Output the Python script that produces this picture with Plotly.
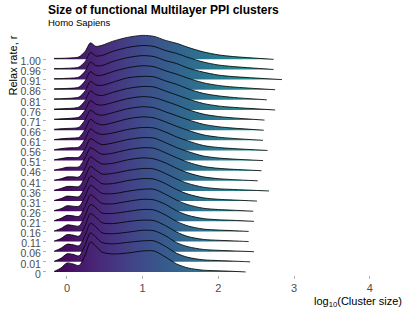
import plotly.graph_objects as go

# ---- data ----
row_labels = ["0", "0.01", "0.06", "0.11", "0.16", "0.21", "0.26", "0.31", "0.36", "0.41", "0.46",
              "0.51", "0.56", "0.61", "0.66", "0.71", "0.76", "0.81", "0.86", "0.91", "0.96", "1.00"]

# log10(cluster size) sample positions for the density estimates
x_grid = [-0.17, -0.08, 0.0, 0.08, 0.16, 0.24, 0.31, 0.38, 0.46, 0.6, 0.8, 1.0, 1.15, 1.3, 1.45, 1.6, 1.8, 2.0, 2.2]

# max log10(cluster size) per relax rate (where each ridge ends)
x_max = [2.36, 2.42, 2.47, 2.40, 2.40, 2.47, 2.46, 2.51, 2.67, 2.52, 2.57,
         2.59, 2.65, 2.59, 2.60, 2.61, 2.75, 2.64, 2.75, 2.84, 2.73, 2.73]

# scaled density heights per relax rate (bottom row first)
d_000 = [0.5, 4, 9, 8, 6.5, 17, 30, 26, 20, 18, 19, 21, 21, 15, 8, 4, 1.8, 1.2, 0.6]
d_001 = [0.5, 3.5, 8, 7.5, 6, 17, 29, 25, 19.5, 18, 19.5, 21, 21, 15.5, 8.5, 4.5, 2, 1.3, 0.7]
d_006 = [0.5, 3.5, 7.5, 7, 6, 16.5, 28.5, 25, 19, 18, 19.5, 21.5, 21, 16, 9, 5, 2.3, 1.4, 0.8]
d_011 = [0.5, 3, 7, 6.5, 5.5, 16, 28, 24.5, 19, 18, 20, 21.5, 21, 16, 9.5, 5, 2.2, 1.3, 0.7]
d_016 = [0.5, 3, 6.5, 6, 5.5, 16, 27, 24, 18.5, 18, 20, 22, 21.5, 16.5, 10, 5.5, 2.4, 1.4, 0.8]
d_021 = [0.6, 3, 6, 5.5, 5, 15, 26.5, 23, 18, 17.5, 20, 22, 21.5, 17, 10.5, 6, 2.8, 1.6, 1.0]
d_026 = [0.6, 2.5, 5.5, 5, 5, 15, 26, 22.5, 18, 17.5, 20, 22, 22, 17, 11, 6.5, 3, 1.7, 1.0]
d_031 = [0.6, 2.5, 5, 4.5, 4.5, 14, 25, 22, 17.5, 17.5, 20.5, 22.5, 22, 17.5, 11.5, 7, 3.3, 1.8, 1.1]
d_036 = [0.7, 2.5, 4.5, 4.5, 4.5, 14, 24.5, 21, 17, 17.5, 20.5, 22.5, 22, 17.5, 12, 7.5, 3.8, 2.2, 1.5]
d_041 = [0.7, 2, 4, 4, 4, 13, 24, 20.5, 17, 17.5, 21, 23, 22, 18, 12.5, 8, 4, 2.2, 1.2]
d_046 = [0.7, 2, 3.5, 3.5, 4, 13, 23, 20, 16.5, 17.5, 21, 23, 22.5, 18, 13, 8.5, 4.3, 2.4, 1.4]
d_051 = [0.8, 2, 3, 3, 3.5, 12, 22, 19, 16, 17.5, 21, 23, 22.5, 18, 13, 9, 4.6, 2.6, 1.5]
d_056 = [0.8, 1.8, 2.5, 2.7, 3.5, 11.5, 21.5, 18, 16, 17.5, 21, 23, 22.5, 18.5, 13.5, 9.5, 5, 3, 1.9]
d_061 = [0.8, 1.5, 2, 2.3, 3, 11, 21, 17.5, 15.5, 17.5, 21.5, 23.5, 22.5, 18.5, 14, 10, 5.5, 3.2, 1.9]
d_066 = [0.9, 1.5, 1.8, 2, 3, 10.5, 20, 16.5, 15, 17.5, 21.5, 23.5, 22.5, 18.5, 14.5, 10.5, 6, 3.5, 2.1]
d_071 = [0.9, 1.3, 1.6, 2, 3, 10, 19.5, 16, 15, 17.5, 21.5, 23.5, 22.5, 19, 15, 10.5, 6, 3.6, 2.2]
d_076 = [0.9, 1.2, 1.5, 1.8, 3, 9.5, 19, 15.5, 14.5, 17.5, 21.5, 23.5, 23, 19, 15, 11, 6.5, 4, 2.6]
d_081 = [1, 1.2, 1.4, 1.8, 2.8, 9, 18.5, 15, 14.5, 17.5, 22, 23.5, 23, 19, 15.5, 11, 6.5, 4, 2.4]
d_086 = [1, 1.1, 1.3, 1.6, 2.7, 9, 18, 14.5, 14.5, 18, 22, 24, 23, 19, 15.5, 11.5, 7, 4.3, 2.7]
d_091 = [1, 1, 1.3, 1.6, 2.6, 8.5, 17.5, 14, 14, 18, 22, 24, 23, 19, 16, 11.5, 7.5, 4.5, 3]
d_096 = [1, 1, 1.2, 1.5, 2.5, 8, 17, 13.5, 14, 18, 22, 24, 23, 19, 16, 12, 7.5, 4.5, 2.9]
d_100 = [1, 1, 1.2, 1.5, 2.5, 8, 16.5, 13, 14, 18, 22, 24, 23, 19, 16, 12, 7.5, 4.5, 2.8]

densities = [d_000, d_001, d_006, d_011, d_016, d_021, d_026, d_031, d_036, d_041, d_046,
             d_051, d_056, d_061, d_066, d_071, d_076, d_081, d_086, d_091, d_096, d_100]

x_ticks = [0, 1, 2, 3, 4]

# ---- style ----
SCALE = 1 / 10.14  # density units -> row spacing
viridis_part = [
    [0.0, "#440154"], [0.086, "#471365"], [0.172, "#482475"], [0.259, "#463480"],
    [0.345, "#414487"], [0.431, "#3b528b"], [0.517, "#355f8d"], [0.603, "#2f6c8e"],
    [0.690, "#2a788e"], [0.776, "#25848e"], [0.862, "#21918c"], [0.948, "#1e9c89"],
    [1.0, "#20a386"],
]
g_start = min(x_grid)
g_stop = max(x_max)

fig = go.Figure()
n = len(row_labels)
for i in reversed(range(n)):
    xs = list(x_grid) + [x_max[i]]
    ys = [i + v * SCALE for v in densities[i]] + [i]
    fig.add_trace(go.Scatter(x=[xs[0], xs[-1]], y=[i, i], mode="lines",
                             line=dict(width=0, color="rgba(0,0,0,0)"),
                             hoverinfo="skip", showlegend=False))
    fig.add_trace(go.Scatter(
        x=xs, y=ys, mode="lines", fill="tonexty",
        line=dict(color="rgba(0,0,0,0.9)", width=0.9, shape="spline", smoothing=0.8),
        fillgradient=dict(type="horizontal", colorscale=viridis_part, start=g_start, stop=g_stop),
        hoverinfo="skip", showlegend=False))

FONT = "Liberation Sans, Arial, sans-serif"
fig.update_layout(
    width=407, height=311,
    margin=dict(l=47, r=10, t=31, b=36, autoexpand=False),
    paper_bgcolor="white", plot_bgcolor="white",
    showlegend=False,
    font=dict(family=FONT, size=11, color="#4d4d4d"),
    xaxis=dict(range=[-0.264, 4.36], tickvals=x_ticks, ticktext=[str(t) for t in x_ticks],
               ticks="outside", ticklen=3, tickcolor="#b0b0b0", showgrid=False, automargin=False,
               zeroline=False, showline=False, tickfont=dict(size=11, color="#4d4d4d")),
    yaxis=dict(range=[-0.3, 23.8], tickvals=list(range(n)), ticktext=row_labels,
               ticks="outside", ticklen=3, tickcolor="#b0b0b0", showgrid=False, automargin=False,
               zeroline=False, showline=False, ticklabelshift=2,
               tickfont=dict(size=10.5, color="#4d4d4d")),
    annotations=[
        dict(text="<b>Size of functional Multilayer PPI clusters</b>", xref="paper", yref="paper",
             x=-0.004, y=1.086, xanchor="left", yanchor="middle", showarrow=False,
             font=dict(size=12, color="black", family=FONT)),
        dict(text="Homo Sapiens", xref="paper", yref="paper",
             x=-0.004, y=1.033, xanchor="left", yanchor="middle", showarrow=False,
             font=dict(size=9.5, color="black", family=FONT)),
        dict(text="log<sub>10</sub>(Cluster size)", xref="paper", yref="paper",
             x=0.757, y=-0.11, xanchor="left", yanchor="middle", showarrow=False,
             font=dict(size=11, color="black", family=FONT)),
        dict(text="Relax rate, r", xref="paper", yref="paper", textangle=-90,
             x=-0.097, y=0.99, xanchor="center", yanchor="top", showarrow=False,
             font=dict(size=11, color="black", family=FONT)),
    ],
)

fig.write_html("out.html", config={"displayModeBar": False},
               post_script="document.body.style.margin='0';")
